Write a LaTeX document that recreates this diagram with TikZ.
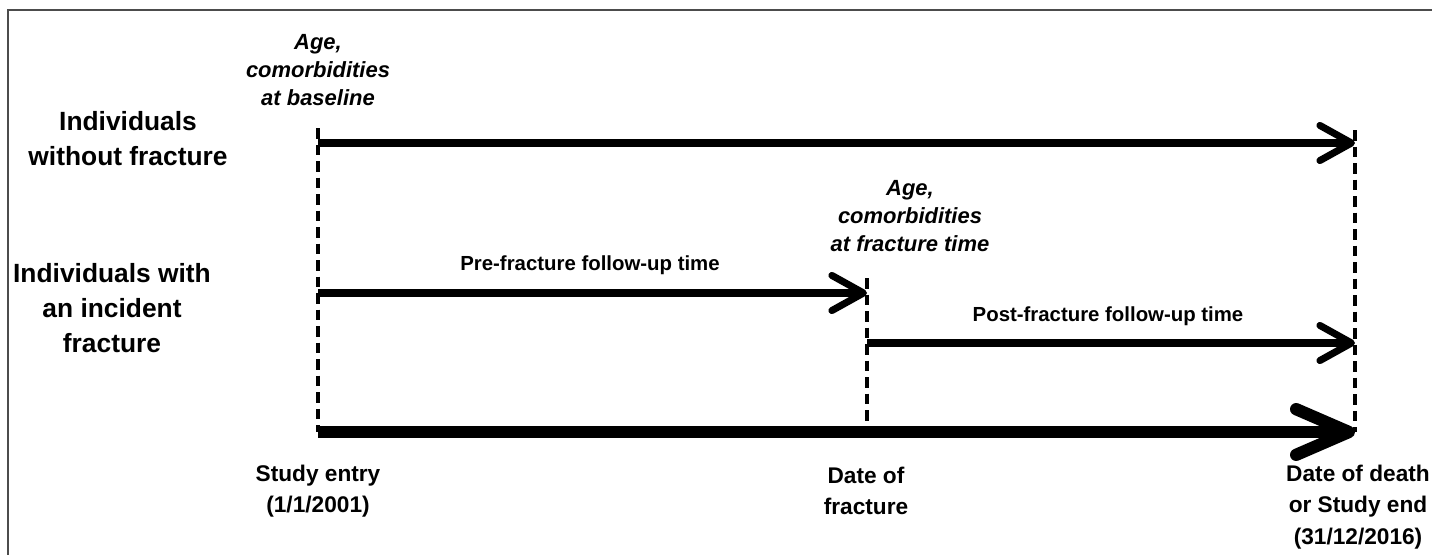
\documentclass[tikz,border=0pt]{standalone}
\usepackage{fontspec}
\setmainfont{Liberation Sans}
\usepackage{tikz}
\usetikzlibrary{arrows.meta,positioning}

\tikzset{
	flow/.style={line width=4pt,-{Straight Barb[length=18pt,width=20pt,round]}},
	timeaxis/.style={line width=7pt,-{Straight Barb[length=30pt,width=26pt,round]}},
	guide/.style={line width=2.2pt,dash pattern=on 6pt off 3.4pt},
	rowlabel/.style={font=\fontsize{15}{20}\selectfont\bfseries,align=center},
	covlabel/.style={font=\fontsize{12.5}{16}\selectfont\bfseries\itshape,align=center},
	spanlabel/.style={font=\fontsize{11.6}{14}\selectfont\bfseries},
	datelabel/.style={font=\fontsize{12.9}{18}\selectfont\bfseries,align=center}
}

\begin{document}
\begin{tikzpicture}[x=0.02cm,y=-0.02cm]
	\useasboundingbox (0,0) rectangle (1432,554);
	\draw[line width=1.2pt,black!70] (8,560) -- (8,10) -- (1440,10);

	% time points
	\coordinate (entryTop) at (318,128);
	\coordinate (entryRow1) at (318,143);
	\coordinate (entryRow2) at (318,293);
	\coordinate (entryAxis) at (318,432);
	\coordinate (fracTop) at (867,278);
	\coordinate (fracRow2) at (867,293);
	\coordinate (fracRow3) at (867,343);
	\coordinate (fracAxis) at (867,432);
	\coordinate (endTop) at (1355,130);
	\coordinate (endRow1) at (1355,143);
	\coordinate (endRow3) at (1355,343);
	\coordinate (endAxis) at (1355,432);

	% dashed guides
	\draw[guide] (entryTop) -- (entryAxis);
	\draw[guide] (fracTop) -- (fracAxis);
	\draw[guide] (endTop) -- (endAxis);

	% follow-up arrows
	\draw[flow] (entryRow1) -- (endRow1);
	\draw[flow] (entryRow2) -- (fracRow2);
	\draw[flow] (fracRow3) -- (endRow3);
	\draw[timeaxis] (entryAxis) -- (endAxis);

	% labels
	\node[rowlabel] at (128,139) (noFrac) {Individuals\\without fracture};
	\node[rowlabel] at (112,308) (withFrac) {Individuals with\\an incident\\fracture};
	\node[covlabel] at (318,70) (covBase) {Age,\\comorbidities\\at baseline};
	\node[covlabel] at (910,216) (covFrac) {Age,\\comorbidities\\at fracture time};
	\node[spanlabel] at (590,265) (preSpan) {Pre-fracture follow-up time};
	\node[spanlabel] at (1108,316) (postSpan) {Post-fracture follow-up time};
	\node[datelabel] at (318,491) (entryDate) {Study entry\\(1/1/2001)};
	\node[datelabel] at (866,491) (fracDate) {Date of\\fracture};
	\node[datelabel] at (1358,507) (endDate) {Date of death\\or Study end\\(31/12/2016)};
\end{tikzpicture}
\end{document}
